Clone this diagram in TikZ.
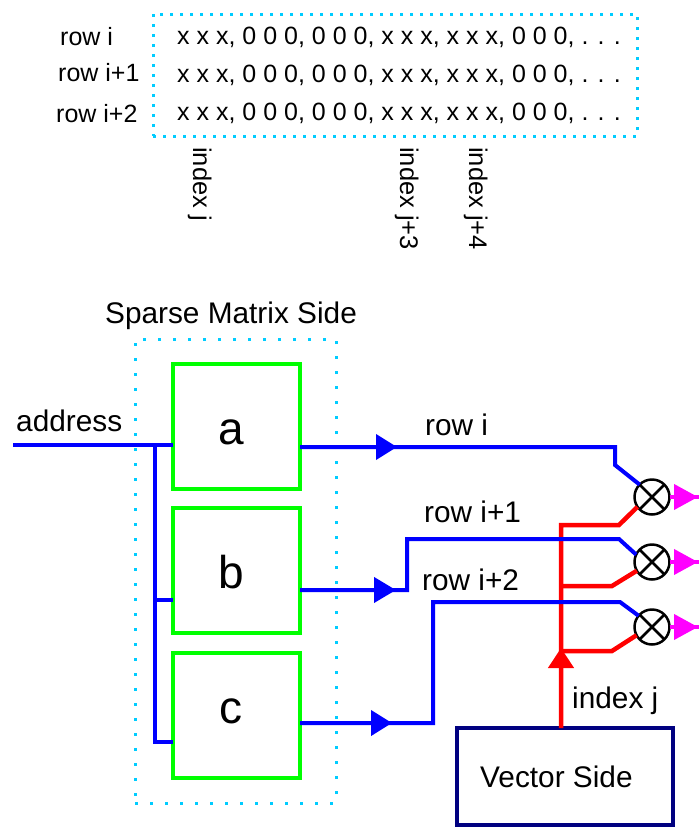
\documentclass[tikz,border=0pt]{standalone}
\usepackage{fontspec}
\setmainfont{Liberation Sans}
\usetikzlibrary{arrows.meta}
\definecolor{dotblue}{RGB}{0,204,255}
\definecolor{navybox}{RGB}{0,0,128}
\definecolor{pinkout}{RGB}{255,0,255}

\begin{document}
\begin{tikzpicture}[
  x=1pt, y=-1pt,
  rowtext/.style={font=\fontsize{25}{25}\selectfont, anchor=base west, inner sep=0pt},
  wiretext/.style={font=\fontsize{29.8}{30}\selectfont, anchor=base west, inner sep=0pt},
  indextext/.style={font=\fontsize{25.5}{26}\selectfont, rotate=-90, anchor=base west, inner sep=0pt},
  lettertext/.style={font=\fontsize{46}{46}\selectfont, anchor=base, inner sep=0pt},
  dotbox/.style={draw=dotblue, line width=3pt, dash pattern=on 3pt off #1, inner sep=0pt, outer sep=0pt},
  memnode/.style={draw=green, line width=4pt, minimum width=127pt, minimum height=125pt, outer sep=0pt, inner sep=0pt},
  mulnode/.style={draw, circle, line width=2.5pt, minimum size=35pt, inner sep=0pt, outer sep=0pt,
    path picture={\draw[line width=2.5pt]
      (path picture bounding box.north west) -- (path picture bounding box.south east)
      (path picture bounding box.north east) -- (path picture bounding box.south west);}},
  bluewire/.style={draw=blue, line width=4pt},
  redwire/.style={draw=red, line width=4.5pt},
  pinkwire/.style={draw=pinkout, line width=4pt}
]
  \useasboundingbox (0,0) rectangle (699,827);

  % Rows
  \node[dotbox=7pt, minimum width=484pt, minimum height=122pt] (rowbox) at (395,75) {};
  \node[rowtext] (labeli) at (60,45) {row i};
  \node[rowtext] (labelii) at (58,81) {row i+1};
  \node[rowtext] (labeliii) at (56,122) {row i+2};
  \node[rowtext] (rowi) at (177,44) {x x x, 0 0 0, 0 0 0, x x x, x x x, 0 0 0, . . .};
  \node[rowtext] (rowii) at (177,82) {x x x, 0 0 0, 0 0 0, x x x, x x x, 0 0 0, . . .};
  \node[rowtext] (rowiii) at (177,120) {x x x, 0 0 0, 0 0 0, x x x, x x x, 0 0 0, . . .};
  \node[indextext] (indexj) at (193,147) {index j};
  \node[indextext] (indexjiii) at (400,147) {index j+3};
  \node[indextext] (indexjiv) at (469,147) {index j+4};

  % Sparse matrix side
  \node[dotbox=12pt, minimum width=201pt, minimum height=464pt] (sparsebox) at (235.5,571) {};
  \node[font=\fontsize{29.8}{30}\selectfont, inner sep=0pt] (sparselabel) at (231,316) {Sparse Matrix Side};
  \node[memnode] (a) at (236.5,426.5) {};
  \node[memnode] (b) at (236.5,570.5) {};
  \node[memnode] (c) at (236.5,715) {};
  \node[lettertext] (alabel) at (231,444.5) {a};
  \node[lettertext] (blabel) at (231,588) {b};
  \node[lettertext] (clabel) at (231,723) {c};

  % Vector side
  \node[draw=navybox, line width=4pt, minimum width=216pt, minimum height=97pt, outer sep=0pt] (vector) at (565,776.5) {};
  \node[wiretext] (vectorlabel) at (480,787) {Vector Side};

  % Multipliers
  \node[mulnode] (mula) at (652,497) {};
  \node[mulnode] (mulb) at (652,562) {};
  \node[mulnode] (mulc) at (652,627) {};

  \coordinate (addr) at (13,445);
  \coordinate (tee) at (155,445);
  \coordinate (ain) at (173,445);
  \coordinate (bin) at (173,600);
  \coordinate (cin) at (173,742);
  \coordinate (aout) at (300,447);
  \coordinate (bout) at (300,590);
  \coordinate (cout) at (300,723);
  \coordinate (vecout) at (561,728);
  \coordinate (redtip) at (561,648);

  % Index wires
  \draw[redwire] (vecout) -- (561,525) -- (619,525) -- (mula.214);
  \draw[redwire, -{Triangle[length=20pt,width=25pt]}] (vecout) -- (redtip);
  \draw[redwire] (561,586) -- (612,586) -- (mulb.210);
  \draw[redwire] (561,651) -- (612,651) -- (mulc.208);

  % Address wires
  \draw[bluewire] (addr) -- (ain);
  \draw[bluewire] (tee) |- (cin);
  \draw[bluewire] (tee |- bin) -- (bin);

  % Row wires
  \draw[bluewire] (aout) -- (615,447) -- (615,465) -- (mula.135);
  \draw[bluewire, -{Triangle[length=21pt,width=25pt]}] (aout) -- (397,447);
  \draw[bluewire] (bout) -- (407,590) -- (407,539) -- (619,539) -- (mulb.155);
  \draw[bluewire, -{Triangle[length=22pt,width=25pt]}] (bout) -- (396,590);
  \draw[bluewire] (cout) -- (433,723) -- (433,602) -- (620,602) -- (mulc.140);
  \draw[bluewire, -{Triangle[length=21pt,width=25pt]}] (cout) -- (392,723);

  % Outputs
  \draw[pinkwire] (mula.east) -- (699,497);
  \draw[pinkwire, -{Triangle[length=24pt,width=25pt]}] (mula.east) -- (698,497);
  \draw[pinkwire] (mulb.east) -- (699,562);
  \draw[pinkwire, -{Triangle[length=24pt,width=25pt]}] (mulb.east) -- (698,562);
  \draw[pinkwire] (mulc.east) -- (699,627);
  \draw[pinkwire, -{Triangle[length=24pt,width=25pt]}] (mulc.east) -- (698,627);

  % Wire labels
  \node[wiretext] (addrlabel) at (16,431) {address};
  \node[wiretext] (wirei) at (425,435) {row i};
  \node[wiretext] (wireii) at (424,522) {row i+1};
  \node[wiretext] (wireiii) at (422,590) {row i+2};
  \node[wiretext] (wirej) at (572,708) {index j};
\end{tikzpicture}
\end{document}
